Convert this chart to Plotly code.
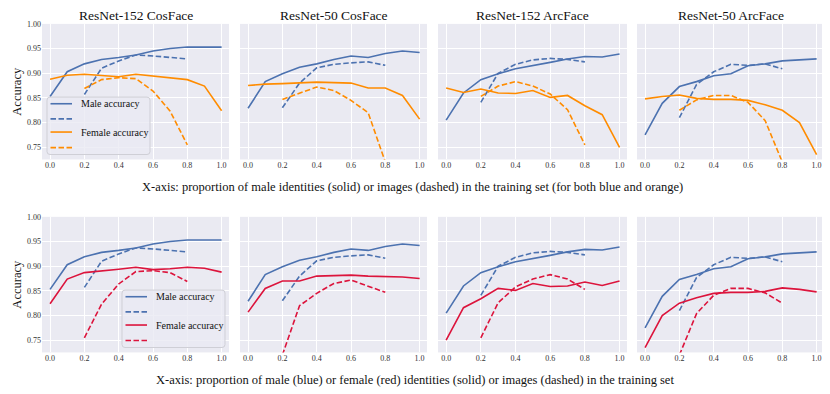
"""Male / female accuracy vs. training-set gender proportion, 2x4 panels (Plotly)."""
import plotly.graph_objects as go
from plotly.subplots import make_subplots

# the page body keeps its default 8px margin, so the figure is drawn 8px smaller and
# every layout position below (given in window pixels) is shifted by OFF
OFF = 8
W, H = 830 - OFF, 394 - OFF
BG, GRID, FONT = "#eaeaf2", "#ffffff", "Liberation Serif"
BLUE, ORANGE, RED = "#4c72b0", "#ff8c00", "#dc143c"
DASH = "5.5px,2.5px"

MODELS = ["ResNet-152 CosFace", "ResNet-50 CosFace", "ResNet-152 ArcFace", "ResNet-50 ArcFace"]

X_ID = [0.0, 0.1, 0.2, 0.3, 0.4, 0.5, 0.6, 0.7, 0.8, 0.9, 1.0]   # identity proportion (solid)
X_IMG = [0.2, 0.3, 0.4, 0.5, 0.6, 0.7, 0.8]                       # image proportion (dashed)
X_TICKS = [0.0, 0.2, 0.4, 0.6, 0.8, 1.0]
Y_TICKS = [0.75, 0.80, 0.85, 0.90, 0.95, 1.00]

# accuracy vs proportion of MALE identities / images
MALE_ID = {
    "ResNet-152 CosFace": [.853, .903, .919, .928, .932, .937, .945, .950, .953, .953, .953],
    "ResNet-50 CosFace": [.829, .883, .899, .912, .919, .928, .935, .932, .940, .945, .942],
    "ResNet-152 ArcFace": [.805, .860, .887, .899, .909, .915, .922, .929, .934, .933, .939],
    "ResNet-50 ArcFace": [.775, .839, .873, .883, .895, .899, .915, .919, .925, .927, .929],
}
MALE_IMG = {
    "ResNet-152 CosFace": [.857, .910, .925, .937, .935, .932, .929],
    "ResNet-50 CosFace": [.830, .880, .911, .918, .921, .923, .916],
    "ResNet-152 ArcFace": [.841, .900, .918, .927, .930, .928, .923],
    "ResNet-50 ArcFace": [.810, .877, .903, .918, .916, .919, .909],
}
FEMALE_ID = {
    "ResNet-152 CosFace": [.888, .896, .898, .895, .893, .898, .894, .890, .887, .874, .824],
    "ResNet-50 CosFace": [.875, .878, .879, .880, .882, .881, .880, .870, .870, .855, .807],
    "ResNet-152 ArcFace": [.870, .861, .868, .860, .859, .865, .851, .855, .834, .816, .750],
    "ResNet-50 ArcFace": [.848, .853, .856, .849, .847, .847, .845, .836, .825, .800, .735],
}
FEMALE_IMG = {
    "ResNet-152 CosFace": [.869, .887, .891, .889, .864, .823, .755],
    "ResNet-50 CosFace": [.847, .860, .872, .865, .845, .820, .720],
    "ResNet-152 ArcFace": [.853, .874, .883, .874, .858, .826, .755],
    "ResNet-50 ArcFace": [.825, .846, .855, .855, .841, .804, .720],
}
# female accuracy vs proportion of FEMALE identities / images (bottom row)
FEMALE_ID_F = {
    "ResNet-152 CosFace": [.824, .874, .887, .890, .894, .898, .893, .895, .898, .896, .888],
    "ResNet-50 CosFace": [.807, .855, .870, .870, .880, .881, .882, .880, .879, .878, .875],
    "ResNet-152 ArcFace": [.750, .816, .834, .855, .851, .865, .859, .860, .868, .861, .870],
    "ResNet-50 ArcFace": [.735, .800, .825, .836, .845, .847, .847, .849, .856, .853, .848],
}
FEMALE_IMG_F = {
    "ResNet-152 CosFace": [.755, .823, .864, .889, .891, .887, .869],
    "ResNet-50 CosFace": [.720, .820, .845, .865, .872, .860, .847],
    "ResNet-152 ArcFace": [.755, .826, .858, .874, .883, .874, .853],
    "ResNet-50 ArcFace": [.720, .804, .841, .855, .855, .846, .825],
}

XTITLE_TOP = ("X-axis: proportion of male identities (solid) or images (dashed) "
              "in the training set (for both blue and orange)")
XTITLE_BOT = ("X-axis: proportion of male (blue) or female (red) identities (solid) "
              "or images (dashed) in the training set")

# panel geometry in window pixels
COLS_PX = [(42, 229), (240, 427), (438, 627), (637, 824)]
ROWS_PX = [(20, 157), (215, 352)]


def px(x):
    return (x - OFF) / W


def py(y):
    return 1 - (y - OFF) / H


def rounded_box(x0, y0, x1, y1, r=3):
    a0, b0, a1, b1 = px(x0), py(y1), px(x1), py(y0)
    rx, ry = r / W, r / H
    return (f"M{a0 + rx},{b0} L{a1 - rx},{b0} Q{a1},{b0} {a1},{b0 + ry} "
            f"L{a1},{b1 - ry} Q{a1},{b1} {a1 - rx},{b1} L{a0 + rx},{b1} "
            f"Q{a0},{b1} {a0},{b1 - ry} L{a0},{b0 + ry} Q{a0},{b0} {a0 + rx},{b0} Z")


def note(text, x, y, size, **kw):
    d = dict(text=text, x=px(x), y=py(y), xref="paper", yref="paper", showarrow=False,
             xanchor="center", yanchor="middle", font=dict(family=FONT, size=size, color="#111"))
    d.update(kw)
    return d


fig = make_subplots(rows=2, cols=4)

for c, m in enumerate(MODELS, start=1):
    for r, fcol, fid, fimg in [(1, ORANGE, FEMALE_ID, FEMALE_IMG),
                               (2, RED, FEMALE_ID_F, FEMALE_IMG_F)]:
        fig.add_trace(go.Scatter(x=X_ID, y=MALE_ID[m], mode="lines",
                                 line=dict(color=BLUE, width=1.6)), row=r, col=c)
        fig.add_trace(go.Scatter(x=X_IMG, y=MALE_IMG[m], mode="lines",
                                 line=dict(color=BLUE, width=1.6, dash=DASH)), row=r, col=c)
        fig.add_trace(go.Scatter(x=X_ID, y=fid[m], mode="lines",
                                 line=dict(color=fcol, width=1.6)), row=r, col=c)
        fig.add_trace(go.Scatter(x=X_IMG, y=fimg[m], mode="lines",
                                 line=dict(color=fcol, width=1.6, dash=DASH)), row=r, col=c)

for r, (y0, y1) in enumerate(ROWS_PX, start=1):
    for c, (x0, x1) in enumerate(COLS_PX, start=1):
        fig.update_xaxes(domain=[px(x0), px(x1)], range=[-0.047, 1.043],
                         tickvals=X_TICKS, tickformat=".1f", showgrid=True, gridcolor=GRID,
                         gridwidth=1, zeroline=False, showline=False, ticks="",
                         tickfont=dict(family=FONT, size=8, color="#333"), row=r, col=c)
        fig.update_yaxes(domain=[py(y1), py(y0)], range=[0.7253, 1.0],
                         tickvals=Y_TICKS, tickformat=".2f", showgrid=True, gridcolor=GRID,
                         gridwidth=1, zeroline=False, showline=False, ticks="",
                         showticklabels=(c == 1),
                         tickfont=dict(family=FONT, size=8, color="#333"), row=r, col=c)

annotations = []
for m, (x0, x1) in zip(MODELS, COLS_PX):
    annotations.append(note(m, (x0 + x1) / 2, 12, 13.5))
for (y0, y1) in ROWS_PX:
    annotations.append(note("Accuracy", 17, (y0 + y1) / 2, 12.5, textangle=-90))
annotations.append(note(XTITLE_TOP, 412.5, 185, 12.5))
annotations.append(note(XTITLE_BOT, 415, 380, 12.5))

# hand-placed legends (matplotlib-style, tight rows)
shapes = []
for (bx0, by0, bx1, by1), fcol in [((47, 94, 150, 152), ORANGE), ((122, 289, 225, 347), RED)]:
    shapes.append(dict(type="path", path=rounded_box(bx0, by0, bx1, by1), xref="paper",
                       yref="paper", fillcolor="rgba(234,234,242,0.8)",
                       line=dict(color="#cfcfd6", width=1)))
    rows_y = [by0 + 6.7, by0 + 22, by0 + 35.3, by0 + 51]
    for yy, col, dash in zip(rows_y, [BLUE, BLUE, fcol, fcol], ["solid", DASH, "solid", DASH]):
        shapes.append(dict(type="line", x0=px(bx0 + 3.5), x1=px(bx0 + 25), y0=py(yy), y1=py(yy),
                           xref="paper", yref="paper", line=dict(color=col, width=1.6, dash=dash)))
    for yy, label in [(rows_y[0], "Male accuracy"), (rows_y[2], "Female accuracy")]:
        annotations.append(note(label, bx0 + 32, yy, 10, xanchor="left"))

fig.update_layout(
    width=W, height=H, margin=dict(l=0, r=0, t=0, b=0),
    paper_bgcolor="white", plot_bgcolor=BG, showlegend=False,
    font=dict(family=FONT, color="#111"),
    annotations=annotations, shapes=shapes,
)
fig.write_html("out.html")
